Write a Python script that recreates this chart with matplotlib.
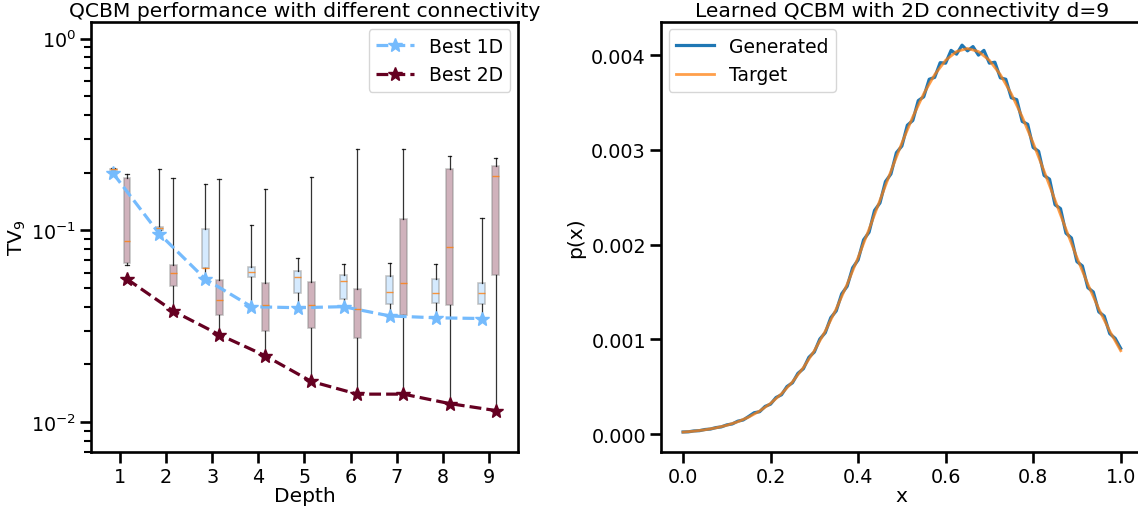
import matplotlib
matplotlib.use('Agg')
import matplotlib.pyplot as plt
import numpy as np
from matplotlib.colors import to_rgba

# ---- left panel data ----
depths = [1, 2, 3, 4, 5, 6, 7, 8, 9]
best_1d = [0.198, 0.096, 0.0557, 0.040, 0.0395, 0.040, 0.0358, 0.0350, 0.0347]
best_2d = [0.0557, 0.038, 0.0286, 0.0222, 0.0163, 0.0140, 0.0140, 0.0125, 0.0115]

# box stats per depth: whislo, q1, med, q3, whishi
box_1d_whislo = [0.205, 0.100, 0.0559, 0.040, 0.0395, 0.040, 0.0355, 0.0347, 0.0347]
box_1d_q1 = [0.206, 0.101, 0.0636, 0.0570, 0.0472, 0.0441, 0.0415, 0.0419, 0.0415]
box_1d_med = [0.208, 0.103, 0.064, 0.0606, 0.057, 0.0542, 0.0477, 0.0473, 0.0472]
box_1d_q3 = [0.210, 0.104, 0.102, 0.0643, 0.0611, 0.0583, 0.0575, 0.0555, 0.0533]
box_1d_whishi = [0.211, 0.209, 0.174, 0.107, 0.0719, 0.067, 0.0675, 0.067, 0.1154]

box_2d_whislo = [0.066, 0.0385, 0.0286, 0.0222, 0.0163, 0.0140, 0.0140, 0.0125, 0.0115]
box_2d_q1 = [0.0677, 0.0511, 0.0361, 0.0297, 0.031, 0.0273, 0.0364, 0.0407, 0.0587]
box_2d_med = [0.0885, 0.0597, 0.0432, 0.0407, 0.0407, 0.0391, 0.0531, 0.0823, 0.192]
box_2d_q3 = [0.187, 0.0656, 0.0549, 0.0531, 0.0538, 0.0497, 0.1145, 0.208, 0.216]
box_2d_whishi = [0.196, 0.187, 0.186, 0.164, 0.190, 0.264, 0.266, 0.245, 0.239]

# ---- right panel data ----
x_target = [0.0, 0.025, 0.05, 0.075, 0.1, 0.125, 0.15, 0.175, 0.2, 0.225,
            0.25, 0.275, 0.3, 0.325, 0.35, 0.375, 0.4, 0.425, 0.45, 0.475,
            0.5, 0.525, 0.55, 0.575, 0.6, 0.625, 0.65, 0.675, 0.7, 0.725,
            0.75, 0.775, 0.8, 0.825, 0.85, 0.875, 0.9, 0.925, 0.95, 0.975, 1.0]
p_target = [0.0000207, 0.0000309, 0.0000452, 0.0000652, 0.0000928, 0.000130,
            0.000179, 0.000243, 0.000324, 0.000426, 0.000551, 0.000702,
            0.000880, 0.001087, 0.001321, 0.001582, 0.001863, 0.002162,
            0.002469, 0.002775, 0.003072, 0.003348, 0.003592, 0.003794,
            0.003945, 0.004038, 0.004070, 0.004038, 0.003945, 0.003794,
            0.003592, 0.003348, 0.003072, 0.002775, 0.002469, 0.002162,
            0.001863, 0.001582, 0.001321, 0.001087, 0.000880]

x_gen = [k / 80 for k in range(81)]
p_gen = [0.000022, 0.000024, 0.000033, 0.000036, 0.000048, 0.000053, 0.000068,
         0.000076, 0.000097, 0.000107, 0.000136, 0.000149, 0.000186, 0.000225,
         0.000236, 0.000292, 0.000316, 0.000386, 0.000415, 0.000502, 0.000541,
         0.000641, 0.000690, 0.000810, 0.000866, 0.001003, 0.001070, 0.001228,
         0.001300, 0.001480, 0.001560, 0.001755, 0.001838, 0.002050, 0.002130,
         0.002360, 0.002440, 0.002665, 0.002745, 0.002970, 0.003040, 0.003260,
         0.003310, 0.003520, 0.003560, 0.003745, 0.003765, 0.003920, 0.003915,
         0.004050, 0.004010, 0.004105, 0.004045, 0.004090, 0.004000, 0.004050,
         0.003915, 0.003925, 0.003760, 0.003745, 0.003550, 0.003530, 0.003300,
         0.003270, 0.003025, 0.002985, 0.002730, 0.002690, 0.002420, 0.002380,
         0.002120, 0.002070, 0.001820, 0.001775, 0.001545, 0.001500, 0.001290,
         0.001245, 0.001060, 0.001010, 0.000905]

c1d = '#75bbfd'
c2d = '#650021'

plt.rcParams['font.family'] = 'DejaVu Sans'
plt.rcParams['font.size'] = 14
plt.rcParams['axes.linewidth'] = 1.9

fig = plt.figure(figsize=(11.38, 5.10), dpi=100)
ax1 = fig.add_axes([0.080, 0.112, 0.375, 0.843])
ax2 = fig.add_axes([0.581, 0.112, 0.423, 0.843])


def make_stats(lo, q1, med, q3, hi):
	return [dict(whislo=a, q1=b, med=c, q3=d, whishi=e) for a, b, c, d, e in zip(lo, q1, med, q3, hi)]


pos_1d = [d - 0.15 for d in depths]
pos_2d = [d + 0.15 for d in depths]

for stats, pos, col in [
		(make_stats(box_1d_whislo, box_1d_q1, box_1d_med, box_1d_q3, box_1d_whishi), pos_1d, c1d),
		(make_stats(box_2d_whislo, box_2d_q1, box_2d_med, box_2d_q3, box_2d_whishi), pos_2d, c2d)]:
	ax1.bxp(stats, positions=pos, widths=0.15, patch_artist=True, showfliers=False,
			boxprops=dict(facecolor=to_rgba(col, 0.3), edgecolor=to_rgba('grey', 0.45), linewidth=1.2),
			whiskerprops=dict(color='black', linewidth=0.9, alpha=0.8),
			capprops=dict(color='black', linewidth=0.9, alpha=0.8),
			medianprops=dict(color='#ff7f0e', linewidth=1.0, alpha=0.8),
			manage_ticks=False)

ax1.plot(pos_1d, best_1d, ls='--', lw=2.3, marker='*', ms=10, color=c1d, label='Best 1D')
ax1.plot(pos_2d, best_2d, ls='--', lw=2.3, marker='*', ms=10, color=c2d, label='Best 2D')

ax1.set_yscale('log')
ax1.set_ylim(0.007, 1.22)
ax1.set_xlim(0.37, 9.63)
ax1.set_xticks(depths)
ax1.set_xlabel('Depth', fontsize=14.6, labelpad=0)
ax1.set_ylabel('TV$_9$', fontsize=14.6, labelpad=2)
ax1.set_title('QCBM performance with different connectivity', fontsize=14.6, pad=4)
ax1.legend(loc='upper right', fontsize=13.5, borderaxespad=0.4)
ax1.tick_params(which='major', length=8, width=1.9, labelsize=13.8, pad=3)
ax1.tick_params(which='minor', length=5, width=1.5)

ax2.plot(x_gen, p_gen, color='#1f77b4', lw=2.3, label='Generated')
ax2.plot(x_target, p_target, color='#ff7f0e', lw=2.0, alpha=0.75, label='Target')
ax2.set_yticks([0.0, 0.001, 0.002, 0.003, 0.004])
ax2.set_yticklabels(['0.000', '0.001', '0.002', '0.003', '0.004'])
ax2.set_ylim(-0.000188, 0.00435)
ax2.set_xlim(-0.05, 1.05)
ax2.set_xlabel('x', fontsize=14.6, labelpad=0)
ax2.set_ylabel('p(x)', fontsize=14.6, labelpad=4)
ax2.set_title('Learned QCBM with 2D connectivity d=9', fontsize=14.6, pad=4)
ax2.legend(loc='upper left', fontsize=13.5, borderaxespad=0.4)
ax2.tick_params(which='major', length=8, width=1.9, labelsize=13.8, pad=3)

fig.savefig('out.png', dpi=100)
